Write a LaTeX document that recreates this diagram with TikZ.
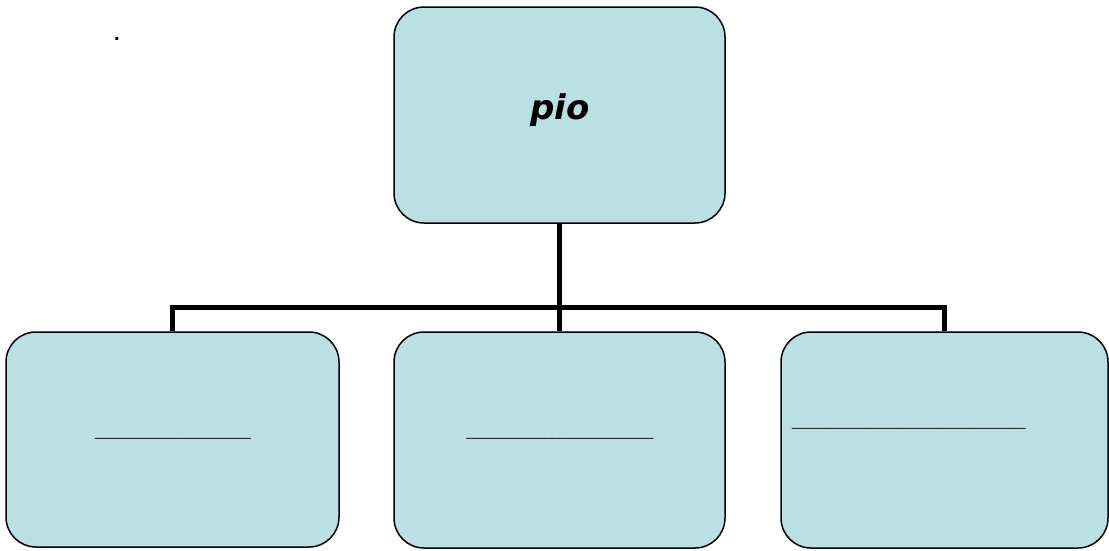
\documentclass[tikz,border=0pt]{standalone}
\usepackage{fontspec}
\setmainfont{Liberation Sans}
\newfontfamily\dvfont{DejaVu Sans}
\definecolor{boxfill}{HTML}{BBE0E3}
\begin{document}
\begin{tikzpicture}[x=1pt,y=-1pt,
  orgbox/.style={draw=black, fill=boxfill, line width=1.5pt, rounded corners=30pt,
    rectangle, inner sep=0pt},
  conn/.style={line width=5pt, draw=black},
  blank/.style={inner sep=0pt, font=\fontsize{14}{16}\selectfont}]
\useasboundingbox (0,0) rectangle (1109,550);
\node[orgbox, minimum width=331pt, minimum height=216pt] (top) at (559.5,115) {};
\node[orgbox, minimum width=333pt, minimum height=215pt] (l) at (172.5,439.5) {};
\node[orgbox, minimum width=331pt, minimum height=216pt] (m) at (559.5,440) {};
\node[orgbox, minimum width=327pt, minimum height=216pt] (r) at (944.5,440) {};
\coordinate (j) at (559.5,307);
\draw[conn] (top.south) -- (m.north);
\draw[conn] (l.north) |- (r.north |- j) -- (r.north);
\node[inner sep=0pt, font=\dvfont\bfseries\itshape\fontsize{34}{38}\selectfont] (ptxt) at (560,110) {pio};
\node[blank, anchor=base] (ltxt) at (173,436) {\_\_\_\_\_\_\_\_\_\_\_\_\_\_\_\_\_\_\_\_};
\node[blank, anchor=base] (mtxt) at (560,436) {\_\_\_\_\_\_\_\_\_\_\_\_\_\_\_\_\_\_\_\_\_\_\_\_};
\node[blank, anchor=base west] (rtxt) at (792,426) {\_\_\_\_\_\_\_\_\_\_\_\_\_\_\_\_\_\_\_\_\_\_\_\_\_\_\_\_\_\_};
\node[inner sep=0pt, anchor=base, font=\bfseries\fontsize{20}{22}\selectfont] (dot) at (117,40) {.};
\end{tikzpicture}
\end{document}
